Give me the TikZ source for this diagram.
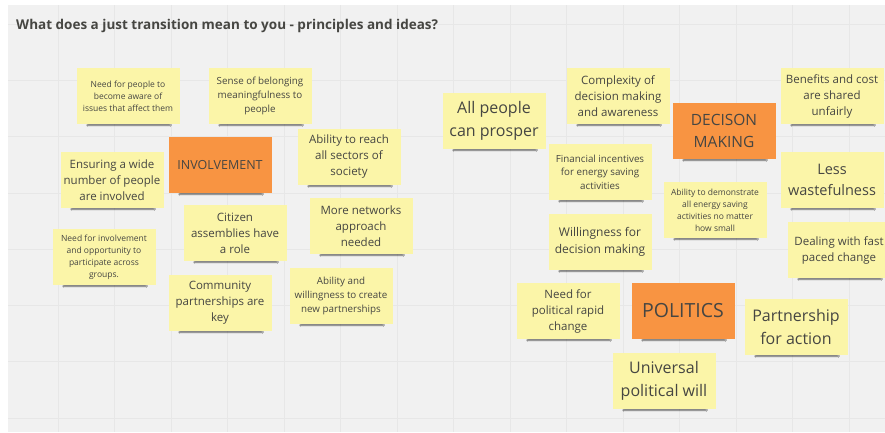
\documentclass[tikz,border=0pt]{standalone}
\usepackage{fontspec}
\setmainfont{Open Sans}
\usetikzlibrary{shadows.blur}
\definecolor{lavagna}{RGB}{241,241,241}
\definecolor{griglia}{RGB}{231,231,231}
\definecolor{giallopostit}{RGB}{251,245,168}
\definecolor{arancio}{RGB}{248,148,66}
\definecolor{testo}{RGB}{70,70,66}

\tikzset{
  postit/.style={fill=giallopostit, text=testo, align=center, inner sep=1pt,
    minimum width=103pt, minimum height=56pt,
    blur shadow={shadow xshift=1pt, shadow yshift=-8.5pt, shadow scale=0.8,
      shadow opacity=60, shadow blur radius=2pt}},
  tema/.style={postit, fill=arancio},
  piccolo/.style={font=\fontsize{8.5}{12}\selectfont},
  medio/.style={font=\fontsize{9.8}{13.6}\selectfont},
  normale/.style={font=\fontsize{11.5}{16}\selectfont},
  grande/.style={font=\fontsize{16}{22.6}\selectfont}
}

\begin{document}
\begin{tikzpicture}[x=1pt,y=-1pt]
    \useasboundingbox (0,0) rectangle (885,432);
    \clip (0,0) rectangle (885,432);
    % Lavagna
    \fill[white] (0,0) rectangle (885,432);
    \fill[lavagna] (8,5) rectangle (885,432);
    \foreach \x in {0,...,14}
        \draw[griglia,line width=0.8pt] ({58+56.5*\x},5) -- ({58+56.5*\x},432);
    \foreach \y in {0,...,7}
        \draw[griglia,line width=0.8pt] (8,{24+56.3*\y}) -- (885,{24+56.3*\y});

    % Titolo
    \node[anchor=base west,inner sep=0pt,text=testo,font=\fontsize{13.5}{16}\bfseries\selectfont] (titolo) at (16,29)
        {What does a just transition mean to you - principles and ideas?};

    % Coinvolgimento
    \node[postit,piccolo] (consapevoli) at (128,96) {Need for people to\\become aware of\\issues that affect them};
    \node[postit,medio] (appartenenza) at (260,96) {Sense of belonging\\meaningfulness to\\people};
    \node[tema,font=\fontsize{12.5}{16}\selectfont] (involvement) at (220,165) {INVOLVEMENT};
    \node[postit,normale] (ampio) at (112,180) {Ensuring a wide\\number of people\\are involved};
    \node[postit,normale] (settori) at (349,157) {Ability to reach\\all sectors of\\society};
    \node[postit,normale] (reti) at (361,226) {More networks\\approach\\needed};
    \node[postit,normale] (assemblee) at (235,233) {Citizen\\assemblies have\\a role};
    \node[postit,piccolo] (gruppi) at (104,257) {Need for involvement\\and opportunity to\\participate across\\groups.};
    \node[postit,normale] (comunita) at (220,303) {Community\\partnerships are\\key};
    \node[postit,medio] (nuove) at (341,296) {Ability and\\willingness to create\\new partnerships};

    % Decisioni
    \node[postit,grande] (prosperare) at (494,121) {All people\\can prosper};
    \node[postit,normale] (complessita) at (618,96) {Complexity of\\decision making\\and awareness};
    \node[tema,font=\fontsize{15.5}{21.7}\selectfont] (decisione) at (724,131) {DECISON\\MAKING};
    \node[postit,normale] (benefici) at (832,96) {Benefits and cost\\are shared\\unfairly};
    \node[postit,medio] (incentivi) at (600,172) {Financial incentives\\for energy saving\\activities};
    \node[postit,piccolo] (dimostrare) at (715,210) {Ability to demonstrate\\all energy saving\\activities no matter\\how small};
    \node[postit,font=\fontsize{14.5}{21}\selectfont] (spreco) at (832,180) {Less\\wastefulness};
    \node[postit,normale] (veloce) at (839,250) {Dealing with fast\\paced change};
    \node[postit,font=\fontsize{12}{16.7}\selectfont] (volonta) at (600,242) {Willingness for\\decision making};

    % Politica
    \node[postit,normale] (rapido) at (568,311) {Need for\\political rapid\\change};
    \node[tema,font=\fontsize{19.5}{24}\selectfont] (politics) at (683,311) {POLITICS};
    \node[postit,grande] (azione) at (796,327) {Partnership\\for action};
    \node[postit,grande] (universale) at (664,381) {Universal\\political will};
\end{tikzpicture}
\end{document}
